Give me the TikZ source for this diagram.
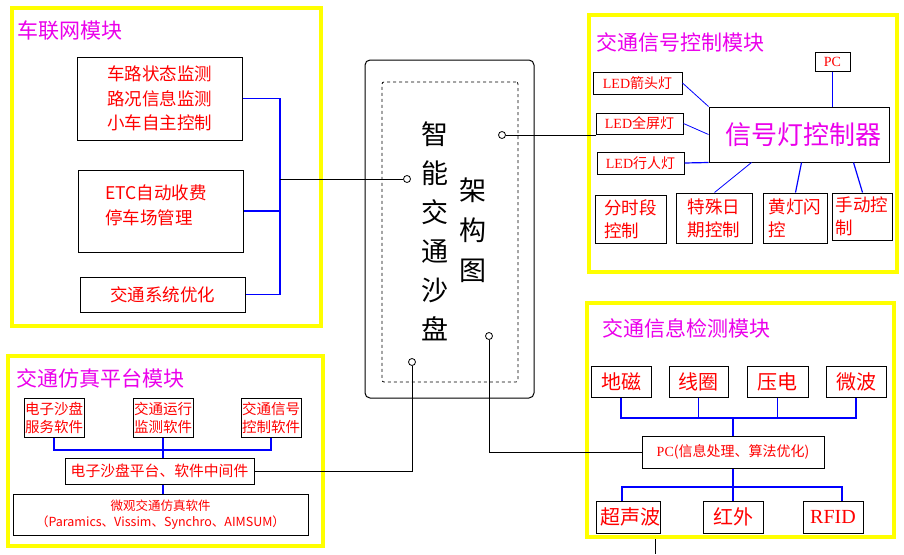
\documentclass[tikz,border=0pt]{standalone}
\usepackage{fontspec}
\setmainfont{Noto Sans CJK SC}
\newfontfamily\lserif{Liberation Serif}
\usetikzlibrary{calc}
\definecolor{tred}{RGB}{255,0,0}
\definecolor{tmag}{RGB}{235,0,235}
\definecolor{fyel}{RGB}{255,255,0}
\definecolor{lblue}{RGB}{0,0,255}
\newcommand\myfs[2]{\fontsize{#1}{#2}\selectfont}
\tikzset{
  sz/.style 2 args={minimum width=#1pt, minimum height=#2pt},
  frame/.style={draw=fyel, line width=3.5pt, inner sep=0pt},
  bx/.style={draw=black, line width=1pt, inner sep=0pt, text=tred, align=center},
  ttl/.style={text=tmag, inner sep=0pt, anchor=west, font=\myfs{21}{24}},
  bus/.style={draw=lblue, line width=1.2pt},
  blk/.style={draw=black, line width=1pt},
  port/.style={circle, draw=black, line width=0.8pt, minimum size=7pt, inner sep=0pt},
}
\begin{document}
\begin{tikzpicture}[x=1pt,y=-1pt]
\useasboundingbox[fill=white] (0,0) rectangle (904,554);

% ---------- frames ----------
\node[frame, sz={309}{318}] (f1) at (166.5,167) {};
\node[frame, sz={308}{257}] (f2) at (743,143.5) {};
\node[frame, sz={307}{234}] (f3) at (740.5,420) {};
\node[frame, sz={315}{190}] (f4) at (165.5,451) {};

\node[ttl] (t1) at (17,31) {车联网模块};
\node[ttl] (t2) at (596,42) {交通信号控制模块};
\node[ttl] (t3) at (602,328) {交通信息检测模块};
\node[ttl] (t4) at (16,378) {交通仿真平台模块};

% ---------- centre ----------
\node[draw=black, line width=1pt, rounded corners=5pt, sz={169}{338}] (outer) at (449.5,229) {};
\node[draw=black, line width=0.8pt, dashed, rounded corners=2pt, sz={136}{300}] (inner) at (450,232) {};
\node[inner sep=0pt, align=center, font=\myfs{27}{39}] (ttlA) at (435,231) {智\\能\\交\\通\\沙\\盘};
\node[inner sep=0pt, align=center, font=\myfs{27}{40}] (ttlB) at (473,230) {架\\构\\图};
\node[port] (c1) at (407,179) {};
\node[port] (c2) at (502,135) {};
\node[port] (c3) at (412,362) {};
\node[port] (c4) at (489,336) {};

% ---------- 车联网模块 ----------
\node[bx, sz={165}{83}, font=\myfs{17.5}{24.5}] (b1) at (159.5,98.5) {车路状态监测\\路况信息监测\\小车自主控制};
\node[bx, sz={165}{82}] (b2) at (160.5,211) {};
\node[inner sep=0pt, text=tred, align=left, anchor=west, font=\myfs{17.5}{25}] (b2t) at (105,205.5) {ETC自动收费\\停车场管理};
\node[bx, sz={165}{35}, font=\myfs{17.5}{20}] (b3) at (162.5,294.5) {交通系统优化};
\coordinate (busL) at (280,179);
\draw[bus] (b1.east) -- (b1.east -| busL) -- (b3.east -| busL) -- (b3.east);
\draw[bus] (b2.east) -- (b2.east -| busL);
\draw[blk] (c1.west) -- (busL);

% ---------- 交通信号控制模块 ----------
\node[bx, sz={35}{19}, font=\lserif\myfs{14}{16}] (pc1) at (832.5,61.5) {PC};
\node[bx, sz={89}{22}, font=\myfs{14}{16}] (led1) at (637.5,83) {{\lserif LED}箭头灯};
\node[bx, sz={87}{21}, font=\myfs{14}{16}] (led2) at (639.5,123.5) {{\lserif LED}全屏灯};
\node[bx, sz={87}{22}, font=\myfs{14}{16}] (led3) at (640.5,163) {{\lserif LED}行人灯};
\node[bx, sz={180}{55}, text=tmag, font=\myfs{26}{28}] (ctrl) at (799,134.5) {\hspace{8pt}信号灯控制器};
\node[bx, sz={71}{48}, align=left, font=\myfs{17.5}{23}] (m1) at (630.5,219) {分时段\\控制};
\node[bx, sz={76}{50}, align=left, font=\myfs{17.5}{23}] (m2) at (714,218) {特殊日\\期控制};
\node[bx, sz={64}{50}, align=left, font=\myfs{17.5}{23}] (m3) at (795,218) {黄灯闪\\控\phantom{灯闪}};
\node[bx, sz={60}{47}, align=left, font=\myfs{17.5}{23}] (m4) at (862,216.5) {手动控\\制\phantom{动控}};
\draw[bus] (pc1.south) -- (pc1.south |- ctrl.north);
\draw[bus, line width=0.8pt] (led1.east) -- (ctrl.north west);
\draw[bus, line width=0.8pt] (led2.east) -- (ctrl.west);
\draw[bus] (led3.east) -- (ctrl.south west);
\draw[bus, line width=0.8pt] ($(ctrl.south west)+(43,0)$) -- ($(m2.north west)+(39,0)$);
\draw[bus] ($(ctrl.south west)+(93,0)$) -- ($(m3.north west)+(33,0)$);
\draw[bus] ($(ctrl.south west)+(145,0)$) -- ($(m4.north west)+(31,0)$);
\draw[blk] (c2.east) -- (c2.east -| led2.west);

% ---------- 交通信息检测模块 ----------
\node[bx, sz={60}{31}, font=\myfs{20}{22}] (s1) at (621,381.5) {地磁};
\node[bx, sz={59}{31}, font=\myfs{20}{22}] (s2) at (698.5,381.5) {线圈};
\node[bx, sz={61}{31}, font=\myfs{20}{22}] (s3) at (777.5,381.5) {压电};
\node[bx, sz={60}{31}, font=\myfs{20}{22}] (s4) at (856,381.5) {微波};
\node[bx, sz={182}{32}, font=\myfs{14}{16}] (pc2) at (733,452) {{\lserif PC}(信息处理、算法优化)};
\node[bx, sz={60}{32}, font=\myfs{20}{22}] (d1) at (628,517) {\hspace{4pt}超声波};
\node[bx, sz={60}{32}, font=\myfs{20}{22}] (d2) at (733,517) {红外};
\node[bx, sz={60}{32}, font=\lserif\myfs{20}{22}] (d3) at (833,517) {RFID};
\coordinate (busS) at (733,418);
\coordinate (busD) at (733,487);
\draw[bus] (s1.south) |- (busS) -| (s4.south);
\draw[bus] (s2.south) -- (s2.south |- busS);
\draw[bus] (s3.south) -- (s3.south |- busS);
\draw[bus] (busS) -- (pc2.north);
\draw[bus] (pc2.south) -- (d2.north);
\draw[bus] ($(d1.north)+(-6,0)$) |- (busD) -| ($(d3.north)+(9,0)$);
\draw[blk] (c4.south) |- (pc2.west);
\coordinate (tail) at (655,554);
\draw[blk] (tail |- f3.south) -- (tail);

% ---------- 交通仿真平台模块 ----------
\node[bx, sz={60}{39}, font=\myfs{14.5}{18}] (w1) at (54,417.5) {电子沙盘\\服务软件};
\node[bx, sz={60}{39}, font=\myfs{14.5}{18}] (w2) at (163,417.5) {交通运行\\监测软件};
\node[bx, sz={60}{39}, font=\myfs{14.5}{18}] (w3) at (271,417.5) {交通信号\\控制软件};
\node[bx, sz={189}{26}, font=\myfs{14.8}{17}] (mid) at (159.5,471) {电子沙盘平台、软件中间件};
\node[bx, sz={295}{41}, font=\myfs{12.5}{16}] (mic) at (160.5,514.5) {微观交通仿真软件\\（Paramics、Vissim、Synchro、AIMSUM）};
\coordinate (busW) at (163,450);
\draw[bus] (w1.south) |- (busW) -| (w3.south);
\draw[bus] (w2.south) -- (w2.south |- mid.north);
\draw[bus] (mid.south -| w2.south) -- (mic.north -| w2.south);
\draw[blk] (mid.east) -| (c3.south);
\end{tikzpicture}
\end{document}
